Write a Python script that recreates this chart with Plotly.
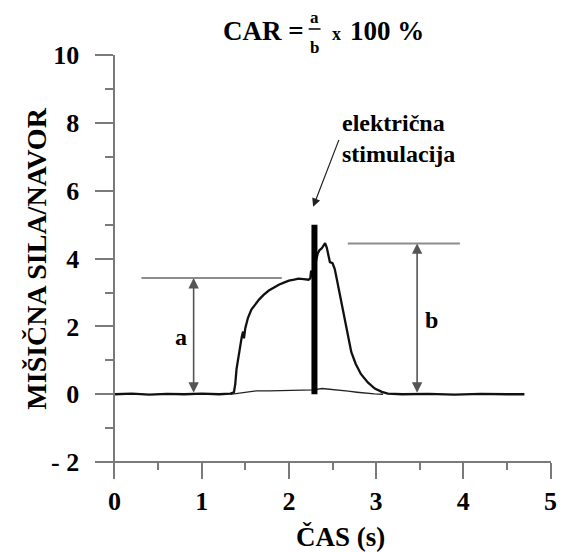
import plotly.graph_objects as go

# ---- data ----
t_main = [0.0, 0.2, 0.4, 0.6, 0.8, 1.0, 1.2,
          1.33, 1.37, 1.385, 1.40, 1.42, 1.44, 1.46, 1.475, 1.485, 1.50,
          1.53, 1.57, 1.61, 1.66, 1.71, 1.77, 1.83, 1.89, 1.95, 2.0,
          2.06, 2.11, 2.17, 2.225, 2.245, 2.255, 2.27,
          2.33, 2.35, 2.375, 2.395, 2.415, 2.435, 2.455, 2.47, 2.50, 2.525,
          2.545, 2.575, 2.605, 2.655, 2.715, 2.765, 2.825, 2.905, 2.985, 3.065,
          3.135, 3.3, 3.6, 3.9, 4.2, 4.5, 4.7]
f_main = [0.0, 0.02, -0.01, 0.01, 0.0, 0.02, 0.0,
          0.02, 0.06, 0.3, 0.75, 1.1, 1.45, 1.7, 1.85, 1.65, 1.95,
          2.25, 2.5, 2.65, 2.8, 2.93, 3.06, 3.15, 3.24, 3.3, 3.35,
          3.38, 3.41, 3.4, 3.38, 3.42, 3.65, 3.45,
          4.15, 4.25, 4.3, 4.38, 4.46, 4.32, 4.05, 3.9, 3.87, 3.7,
          3.45, 3.05, 2.6, 2.0, 1.25, 0.9, 0.6, 0.35, 0.17, 0.07,
          0.02, 0.0, 0.01, -0.01, 0.01, 0.0, 0.0]

t_low = [1.33, 1.43, 1.53, 1.63, 1.78, 1.98, 2.18, 2.28, 2.38, 2.48, 2.58, 2.68, 2.78, 2.88, 2.98, 3.08]
f_low = [0.0, 0.04, 0.08, 0.1, 0.1, 0.11, 0.12, 0.13, 0.17, 0.15, 0.12, 0.09, 0.06, 0.03, 0.01, 0.0]

stim_t = [2.293, 2.293]
stim_f = [0.0, 5.0]

a_line_t = [0.31, 1.918]
a_level = 3.43
a_arrow_t = 0.908
a_label_pos = (0.765, 1.69)

b_line_t = [2.675, 3.96]
b_level = 4.45
b_arrow_t = 3.47
b_label_pos = (3.63, 2.2)

y_tickvals = [-2, 0, 2, 4, 6, 8, 10]
y_ticktext = ["- 2", "0", "2", "4", "6", "8", "10"]
x_tickvals = [0, 1, 2, 3, 4, 5]
x_ticktext = ["0", "1", "2", "3", "4", "5"]

FONT = "Liberation Serif"
AXC = "#7a7a7a"

# page offset of the figure (browser body margin)
OFF = 8

fig = go.Figure()
fig.add_trace(go.Scatter(x=t_low, y=f_low, mode="lines",
                         line=dict(color="#222", width=1.3), hoverinfo="skip"))
fig.add_trace(go.Scatter(x=t_main, y=f_main, mode="lines",
                         line=dict(color="#111", width=2.3), hoverinfo="skip"))
fig.add_trace(go.Scatter(x=stim_t, y=stim_f, mode="lines",
                         line=dict(color="#000", width=6), hoverinfo="skip"))
fig.add_trace(go.Scatter(x=a_line_t, y=[a_level, a_level], mode="lines",
                         line=dict(color="#8c8c8c", width=2), hoverinfo="skip"))
fig.add_trace(go.Scatter(x=b_line_t, y=[b_level, b_level], mode="lines",
                         line=dict(color="#8c8c8c", width=2), hoverinfo="skip"))

# double-headed arrows a and b
for xt, lvl in [(a_arrow_t, a_level), (b_arrow_t, b_level)]:
    fig.add_annotation(x=xt, y=lvl, ax=xt, ay=0, xref="x", yref="y", axref="x", ayref="y",
                       text="", showarrow=True, arrowhead=2, arrowside="end+start",
                       arrowsize=1.3, arrowwidth=1.6, arrowcolor="#555")

fig.add_annotation(x=a_label_pos[0], y=a_label_pos[1], text="<b>a</b>", showarrow=False,
                   font=dict(family=FONT, size=24, color="#000"))
fig.add_annotation(x=b_label_pos[0], y=b_label_pos[1], text="<b>b</b>", showarrow=False,
                   font=dict(family=FONT, size=24, color="#000"))

# stimulation label + arrow
fig.add_annotation(x=2.585, y=7.56, text="<b>električna<br>stimulacija</b>", showarrow=False,
                   xanchor="left", yanchor="middle", align="left",
                   font=dict(family=FONT, size=24, color="#000"))
fig.add_annotation(x=2.278, y=5.53, ax=2.58, ay=7.55, xref="x", yref="y", axref="x", ayref="y",
                   text="", showarrow=True, arrowhead=2, arrowsize=1.4, arrowwidth=1.2,
                   arrowcolor="#222")

# title: CAR = a/b x 100 %
def px2paper(px, py):
    return (px - 97) / 459, (479 - py) / 424

tx, ty = px2paper(308, 31)
fig.add_annotation(x=tx, y=ty, xref="paper", yref="paper", text="<b>CAR =</b>", showarrow=False,
                   xanchor="right", yanchor="middle", font=dict(family=FONT, size=27, color="#000"))
ax_, ay_ = px2paper(317, 17)
fig.add_annotation(x=ax_, y=ay_, xref="paper", yref="paper", text="<b>a</b>", showarrow=False,
                   xanchor="center", yanchor="middle", font=dict(family=FONT, size=17, color="#000"))
bx_, by_ = px2paper(317, 47)
fig.add_annotation(x=bx_, y=by_, xref="paper", yref="paper", text="<b>b</b>", showarrow=False,
                   xanchor="center", yanchor="middle", font=dict(family=FONT, size=17, color="#000"))
l0x, ly = px2paper(311, 29)
l1x, _ = px2paper(323, 29)
fig.add_shape(type="line", xref="paper", yref="paper", x0=l0x, x1=l1x, y0=ly, y1=ly,
              line=dict(color="#000", width=1.5))
xx, xy = px2paper(339, 34)
fig.add_annotation(x=xx, y=xy, xref="paper", yref="paper", text="<b>x</b>", showarrow=False,
                   xanchor="center", yanchor="middle", font=dict(family=FONT, size=18, color="#000"))
hx, hy = px2paper(351, 31)
fig.add_annotation(x=hx, y=hy, xref="paper", yref="paper", text="<b>100 %</b>", showarrow=False,
                   xanchor="left", yanchor="middle", font=dict(family=FONT, size=27, color="#000"))

# axis titles
yx, yy = px2paper(35, 259)
fig.add_annotation(x=yx, y=yy, xref="paper", yref="paper", text="<b>MIŠIČNA SILA/NAVOR</b>",
                   showarrow=False, textangle=-90, xanchor="center", yanchor="middle",
                   font=dict(family=FONT, size=28, color="#000"))
cx, cy = px2paper(343, 537)
fig.add_annotation(x=cx, y=cy, xref="paper", yref="paper", text="<b>ČAS (s)</b>",
                   showarrow=False, xanchor="center", yanchor="middle",
                   font=dict(family=FONT, size=27, color="#000"))

xr = [-0.2, 5.005]
yr = [-2.5, 10.01]

fig.update_layout(
    width=569 - OFF, height=552 - OFF,
    margin=dict(l=97 - OFF, r=13, t=55 - OFF, b=73),
    paper_bgcolor="white", plot_bgcolor="white",
    showlegend=False,
    xaxis=dict(range=xr, domain=[0, 1], anchor="free",
               position=(-2 - yr[0]) / (yr[1] - yr[0]),
               showgrid=False, zeroline=False, showline=True, linecolor=AXC, linewidth=2,
               ticks="outside", ticklen=16, tickwidth=2, tickcolor=AXC,
               tickvals=x_tickvals, ticktext=["<b>%s</b>" % s for s in x_ticktext],
               minor=dict(dtick=0.5, tick0=0, ticks="outside", ticklen=7, tickwidth=2, tickcolor=AXC),
               tickfont=dict(family=FONT, size=26, color="#000")),
    yaxis=dict(range=yr, domain=[0, 1], anchor="free",
               position=(0 - xr[0]) / (xr[1] - xr[0]),
               showgrid=False, zeroline=False, showline=True, linecolor=AXC, linewidth=2,
               ticks="outside", ticklen=18, tickwidth=2, tickcolor=AXC,
               tickvals=y_tickvals, ticktext=["<b>%s</b>" % s for s in y_ticktext],
               ticklabelstandoff=11,
               minor=dict(dtick=1, tick0=0, ticks="outside", ticklen=8, tickwidth=2, tickcolor=AXC),
               tickfont=dict(family=FONT, size=26, color="#000")),
)

fig.write_html("out.html")
